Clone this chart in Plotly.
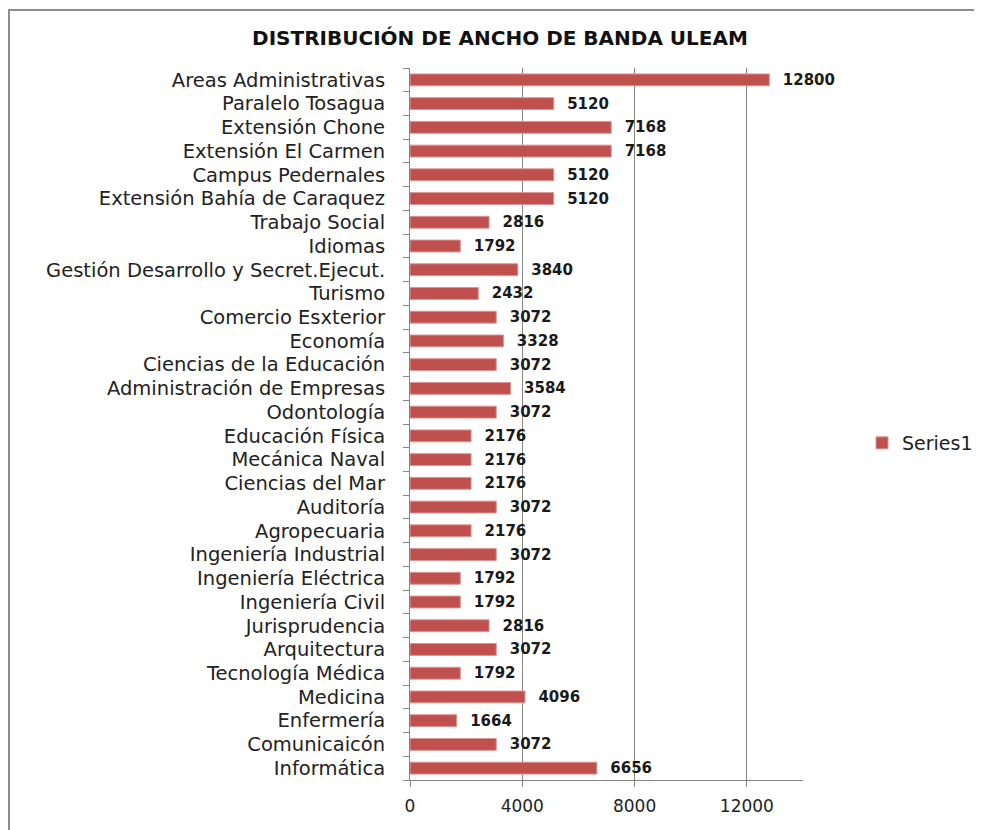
import plotly.graph_objects as go

categories = [
    "Areas Administrativas", "Paralelo Tosagua", "Extensión Chone", "Extensión El Carmen",
    "Campus Pedernales", "Extensión Bahía de Caraquez", "Trabajo Social", "Idiomas",
    "Gestión Desarrollo y Secret.Ejecut.", "Turismo", "Comercio Esxterior", "Economía",
    "Ciencias de la Educación", "Administración de Empresas", "Odontología", "Educación Física",
    "Mecánica Naval", "Ciencias del Mar", "Auditoría", "Agropecuaria", "Ingeniería Industrial",
    "Ingeniería Eléctrica", "Ingeniería Civil", "Jurisprudencia", "Arquitectura",
    "Tecnología Médica", "Medicina", "Enfermería", "Comunicaicón", "Informática",
]
values = [
    12800, 5120, 7168, 7168, 5120, 5120, 2816, 1792, 3840, 2432, 3072, 3328, 3072, 3584, 3072,
    2176, 2176, 2176, 3072, 2176, 3072, 1792, 1792, 2816, 3072, 1792, 4096, 1664, 3072, 6656,
]
x_ticks = [0, 4000, 8000, 12000]
x_tick_labels = ["0", "4000", "8000", "12000"]

OFF = 8  # page body margin
W, H = 982 - OFF, 830 - OFF
L, R, T, B = 410 - OFF, 982 - 803, 68 - OFF, 830 - 780
pw, ph = W - L - R, H - T - B

def px_x(p):
    return (p - OFF - L) / pw

def px_y(p):
    return (H - B - (p - OFF)) / ph

FONT = "DejaVu Sans"

fig = go.Figure()
fig.add_trace(go.Bar(
    x=values, y=categories, orientation="h", name="Series1",
    marker=dict(color="#C0504D", line=dict(color="#D99694", width=1)),
    width=0.5,
    text=[str(v) for v in values], texttemplate="  %{text}", textposition="outside",
    cliponaxis=False, constraintext="none",
    textfont=dict(family=FONT, size=15, color="#1a1a1a", weight="bold"),
))

fig.update_layout(
    width=W, height=H,
    margin=dict(l=L, r=R, t=T, b=B, autoexpand=False),
    paper_bgcolor="white", plot_bgcolor="white",
    showlegend=True,
    legend=dict(x=px_x(862), y=px_y(443), xanchor="left", yanchor="middle",
                font=dict(family=FONT, size=19, color="#222")),
    title=dict(text="<b>DISTRIBUCIÓN DE ANCHO DE BANDA ULEAM</b>",
               x=px_x(500), xref="paper", xanchor="center",
               y=1 - (38 - OFF) / H, yref="container", yanchor="middle",
               font=dict(family=FONT, size=20, color="#111")),
    xaxis=dict(range=[0, 14000], tickvals=x_ticks, ticktext=x_tick_labels,
               showgrid=True, gridcolor="#868686",
               gridwidth=1, zeroline=False, showline=True, linecolor="#868686",
               ticks="outside", ticklen=6, tickcolor="#868686", ticklabelstandoff=5,
               tickfont=dict(family=FONT, size=17, color="#222")),
    yaxis=dict(autorange="reversed", type="category", showline=True, linecolor="#868686",
               tickmode="array", tickvals=categories, ticktext=categories,
               ticks="outside", ticklen=6, tickcolor="#868686", tickson="boundaries",
               ticklabelstandoff=20, showgrid=False,
               tickfont=dict(family=FONT, size=19.5, color="#222")),
    shapes=[dict(type="rect", xref="paper", yref="paper",
                 x0=px_x(OFF + 1), x1=px_x(1000), y0=px_y(850), y1=px_y(10),
                 line=dict(color="#8c8c8c", width=2), layer="below")],
)

fig.write_html("out.html")
